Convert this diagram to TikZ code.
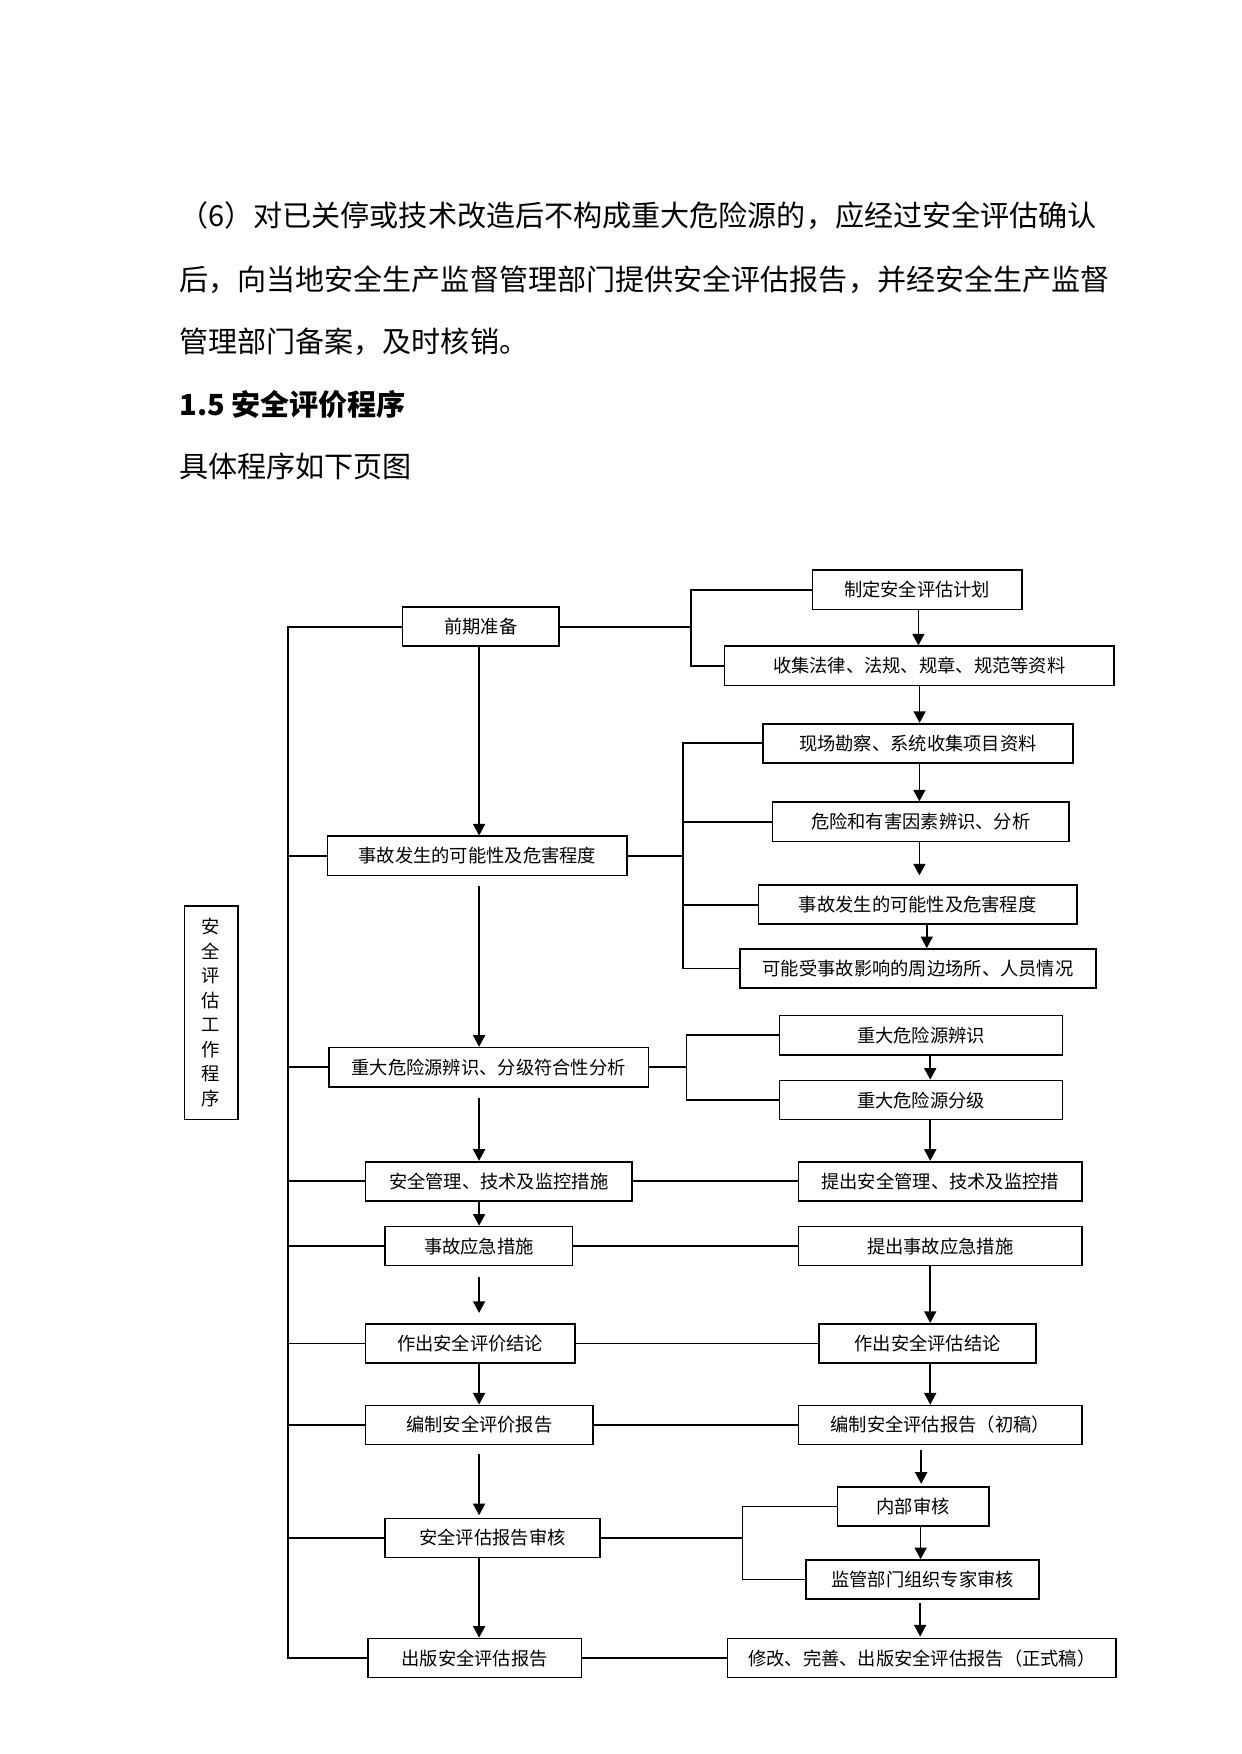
\documentclass[tikz,border=0pt]{standalone}
\usepackage{fontspec}
\setmainfont{Noto Sans CJK SC}
\usetikzlibrary{arrows.meta}
\newdimen\pxlen \pxlen=0.01892cm

\tikzset{
  proc/.style={draw, line width=0.8pt, inner sep=0pt, minimum height=35*\pxlen,
               font=\fontsize{8.8}{10}\selectfont},
  link/.style={line width=0.8pt},
  flow/.style={line width=0.8pt, -{Triangle[length=5.6pt,width=5.8pt]}},
  para/.style={anchor=base west, inner sep=0pt, font=\fontsize{14}{14}\selectfont},
}

\begin{document}
\begin{tikzpicture}[x=0.01892cm, y=-0.01892cm]

    \useasboundingbox (0,0) rectangle (1110,1568.8);

    % text above the chart
    \node (para1) [para] at (160,203) {（6）对已关停或技术改造后不构成重大危险源的，应经过安全评估确认};
    \node (para2) [para] at (160,260) {后，向当地安全生产监督管理部门提供安全评估报告，并经安全生产监督};
    \node (para3) [para] at (160,315) {管理部门备案，及时核销。};
    \node (title) [para, font=\fontsize{14}{14}\selectfont\bfseries] at (160,372) {1.5 安全评价程序};
    \node (intro) [para] at (160,427) {具体程序如下页图};

    % left column
    \node (prep)   [proc, minimum width=140*\pxlen] at (430,560.5) {前期准备};
    \node (lposs)  [proc, minimum width=268*\pxlen] at (427,765.5) {事故发生的可能性及危害程度};
    \node (lmajor) [proc, minimum width=286*\pxlen] at (437,954.5) {重大危险源辨识、分级符合性分析};
    \node (lmeas)  [proc, minimum width=238*\pxlen] at (446,1056.5) {安全管理、技术及监控措施};
    \node (lemerg) [proc, minimum width=167.5*\pxlen] at (428.3,1114.5) {事故应急措施};
    \node (lconc)  [proc, minimum width=187*\pxlen] at (420.5,1201.5) {作出安全评价结论};
    \node (lrep)   [proc, minimum width=203.5*\pxlen] at (428.8,1274.5) {编制安全评价报告};
    \node (lrev)   [proc, minimum width=192*\pxlen] at (440.5,1375.5) {安全评估报告审核};
    \node (lpub)   [proc, minimum width=191*\pxlen] at (424.5,1483) {出版安全评估报告};

    % right column
    \node (plan)   [proc, minimum width=187.4*\pxlen] at (820.3,527.5) {制定安全评估计划};
    \node (law)    [proc, minimum width=348.4*\pxlen] at (822.2,595.5) {收集法律、法规、规章、规范等资料};
    \node (site)   [proc, minimum width=277.6*\pxlen] at (821,664.8) {现场勘察、系统收集项目资料};
    \node (hazard) [proc, minimum width=265.4*\pxlen] at (823.5,735) {危险和有害因素辨识、分析};
    \node (rposs)  [proc, minimum width=285*\pxlen] at (820.8,809.2) {事故发生的可能性及危害程度};
    \node (around) [proc, minimum width=318.4*\pxlen] at (821.1,866.3) {可能受事故影响的周边场所、人员情况};
    \node (ident)  [proc, minimum width=253.2*\pxlen] at (823.8,925.8) {重大危险源辨识};
    \node (grade)  [proc, minimum width=253.2*\pxlen] at (823.8,983.9) {重大危险源分级};
    \node (rmeas)  [proc, minimum width=253.2*\pxlen] at (840.9,1056.5) {提出安全管理、技术及监控措};
    \node (remerg) [proc, minimum width=253.2*\pxlen] at (840.9,1114.5) {提出事故应急措施};
    \node (rconc)  [proc, minimum width=194.2*\pxlen] at (829.7,1201.5) {作出安全评估结论};
    \node (rrep)   [proc, minimum width=253.2*\pxlen] at (840.9,1274.5) {编制安全评估报告（初稿）};
    \node (inner)  [proc, minimum width=135.4*\pxlen] at (816.7,1347.4) {内部审核};
    \node (expert) [proc, minimum width=208.6*\pxlen] at (825.2,1412.8) {监管部门组织专家审核};
    \node (final)  [proc, minimum width=347.7*\pxlen] at (824.5,1483) {修改、完善、出版安全评估报告（正式稿）};

    % side label
    \node (side) [draw, line width=0.8pt, inner sep=0pt, minimum width=47.7*\pxlen, minimum height=190.8*\pxlen,
                  align=center, font=\fontsize{8.8}{11.8}\selectfont] at (188.8,905.8)
        {安\\全\\评\\估\\工\\作\\程\\序};

    % buses
    \coordinate (lbus) at (257.5,0);
    \coordinate (bus1) at (618,0);
    \coordinate (bus2) at (611,0);
    \coordinate (bus3) at (614,0);
    \coordinate (bus4) at (664,0);
    \coordinate (lcol) at (428.5,0);

    \draw[link] (prep.west) -- (prep.west -| lbus) -- (lpub.west -| lbus) -- (lpub.west);
    \foreach \n in {lposs,lmajor,lmeas,lemerg,lconc,lrep,lrev}
        \draw[link] (\n.west -| lbus) -- (\n.west);

    \draw[link] (plan.west) -- (plan.west -| bus1) -- (law.west -| bus1) -- (law.west);
    \draw[link] (prep.east) -- (prep.east -| bus1);

    \draw[link] (site.west) -- (site.west -| bus2) -- (around.west -| bus2) -- (around.west);
    \foreach \n in {hazard,rposs}
        \draw[link] (\n.west -| bus2) -- (\n.west);
    \draw[link] (lposs.east) -- (lposs.east -| bus2);

    \draw[link] (ident.west) -- (ident.west -| bus3) -- (grade.west -| bus3) -- (grade.west);
    \draw[link] (lmajor.east) -- (lmajor.east -| bus3);

    \draw[link] (inner.west) -- (inner.west -| bus4) -- (expert.west -| bus4) -- (expert.west);
    \draw[link] (lrev.east) -- (lrev.east -| bus4);

    \foreach \a/\b in {lmeas/rmeas, lemerg/remerg, lconc/rconc, lrep/rrep, lpub/final}
        \draw[link] (\a.east) -- (\b.west);

    % arrows, left column
    \foreach \a/\b/\s/\e in {prep/lposs/0/0, lposs/lmajor/9/0, lmajor/lmeas/9/0, lmeas/lemerg/0/0,
                             lemerg/lconc/9/9, lconc/lrep/0/0, lrep/lrev/8/2, lrev/lpub/0/0}
        \draw[flow, shorten <=\s*\pxlen, shorten >=\e*\pxlen] (\a.south -| lcol) -- (\b.north -| lcol);

    % arrows, right column
    \foreach \a/\b/\x/\s/\e in {plan/law/821.4/0/0, law/site/822.5/0/0, site/hazard/822.3/0/0,
                                hazard/rposs/822.3/0/8, rposs/around/828.9/0/0, ident/grade/832/0/0,
                                grade/rmeas/832/0/0, remerg/rconc/832/0/0, rconc/rrep/832/0/0,
                                rrep/inner/823.9/4/2, inner/expert/823.4/0/0, expert/final/823/3/1}
        \draw[flow, shorten <=\s*\pxlen, shorten >=\e*\pxlen] (\x,0 |- \a.south) -- (\x,0 |- \b.north);

\end{tikzpicture}
\end{document}
